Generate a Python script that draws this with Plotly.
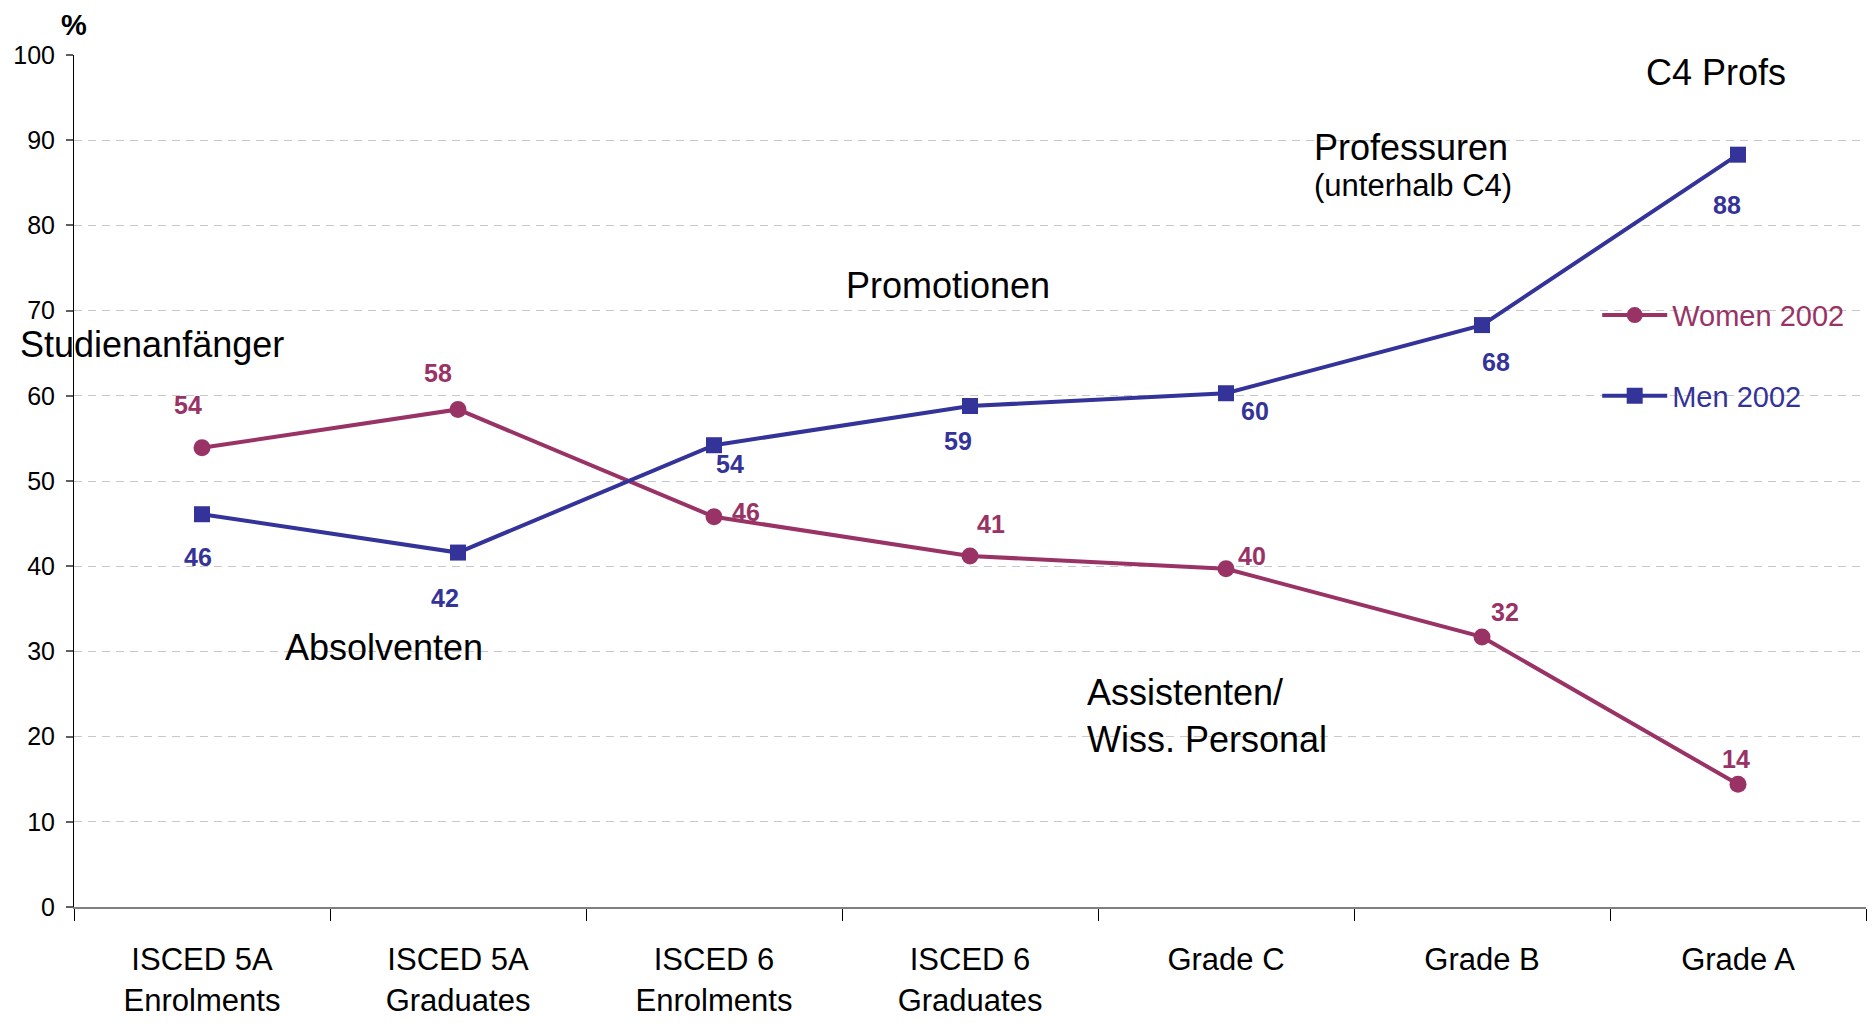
import plotly.graph_objects as go

# ---------------- data ----------------
categories = ["ISCED 5A<br>Enrolments", "ISCED 5A<br>Graduates", "ISCED 6<br>Enrolments",
              "ISCED 6<br>Graduates", "Grade C", "Grade B", "Grade A"]
women_2002 = [53.9, 58.4, 45.8, 41.2, 39.7, 31.7, 14.4]
men_2002 = [46.1, 41.6, 54.2, 58.8, 60.3, 68.3, 88.3]
y_tick_values = [0, 10, 20, 30, 40, 50, 60, 70, 80, 90, 100]

# stage annotations (text, x as fraction of plot width, y in %)
stage_labels = ["Studienanfänger", "Absolventen", "Promotionen", "Professuren",
                "(unterhalb C4)", "C4 Profs", "Assistenten/<br>Wiss. Personal"]
stage_x = [-0.0310, 0.1166, 0.4295, 0.6910, 0.6910, 0.8762, 0.5641]
stage_y = [66.0, 30.5, 72.9, 89.1, 84.7, 97.9, 22.4]

# ---------------- styles ----------------
WOMEN_COLOR = "#993366"
MEN_COLOR = "#333399"
SANS = "Liberation Sans, Arial, sans-serif"
women_label_shift = [(-14, -43), (-20, -36), (32, -5), (21, -32), (26, -13), (23, -25), (-2, -25)]
men_label_shift = [(-4, 43), (-13, 45), (16, 19), (-12, 35), (29, 18), (14, 37), (-11, 50)]
stage_sizes = [36, 36, 36, 36, 31, 36, 36]

fig = go.Figure()
fig.add_trace(go.Scatter(
    x=categories, y=women_2002, mode="lines+markers",
    name=f"<span style='color:{WOMEN_COLOR}'>Women 2002</span>",
    legendgroup="w",
    line=dict(color=WOMEN_COLOR, width=4),
    marker=dict(symbol="circle", size=17, color=WOMEN_COLOR),
))
fig.add_trace(go.Scatter(
    x=categories, y=men_2002, mode="lines+markers",
    name=f"<span style='color:{MEN_COLOR}'>Men 2002</span>",
    legendgroup="m",
    line=dict(color=MEN_COLOR, width=4),
    marker=dict(symbol="square", size=16, color=MEN_COLOR),
))

annotations = []
for i, v in enumerate(women_2002):
    dx, dy = women_label_shift[i]
    annotations.append(dict(x=i, y=v, xref="x", yref="y", text=f"{v:.0f}", showarrow=False,
                            xshift=dx, yshift=-dy,
                            font=dict(family=SANS, size=25, color=WOMEN_COLOR, weight="bold")))
for i, v in enumerate(men_2002):
    dx, dy = men_label_shift[i]
    annotations.append(dict(x=i, y=v, xref="x", yref="y", text=f"{v:.0f}", showarrow=False,
                            xshift=dx, yshift=-dy,
                            font=dict(family=SANS, size=25, color=MEN_COLOR, weight="bold")))
for t, x, y, s in zip(stage_labels, stage_x, stage_y, stage_sizes):
    annotations.append(dict(x=x, y=y, xref="paper", yref="y", text=t, showarrow=False,
                            xanchor="left", yanchor="middle", align="left",
                            font=dict(family=SANS, size=s, color="black")))
annotations.append(dict(x=0, y=1.035, xref="paper", yref="paper", text="%", showarrow=False,
                        xanchor="center", yanchor="middle",
                        font=dict(family=SANS, size=29, color="black", weight="bold")))

fig.update_layout(
    width=1872, height=1023,
    margin=dict(l=74, r=6, t=55, b=116),
    paper_bgcolor="white", plot_bgcolor="white",
    showlegend=True,
    legend=dict(x=0.850, y=0.7245, xanchor="left", yanchor="top",
                bgcolor="rgba(255,255,255,0)", borderwidth=0,
                font=dict(family=SANS, size=29),
                tracegroupgap=40, itemwidth=65),
    annotations=annotations,
    shapes=[dict(type="rect", xref="paper", yref="y", x0=0.837, x1=1.0, y0=35, y1=71,
                 fillcolor="white", line=dict(width=0), layer="between")],
)
fig.update_xaxes(
    type="category", range=[-0.5, 6.5], tickson="boundaries",
    ticks="outside", ticklen=12, tickcolor="black", tickwidth=1,
    showline=True, linecolor="#808080", linewidth=2,
    showgrid=False, zeroline=False, automargin=False,
    tickfont=dict(family=SANS, size=31, color="black"),
    ticklabelstandoff=24,
)
fig.update_yaxes(
    range=[0, 100], tickvals=y_tick_values,
    ticks="outside", ticklen=7, tickcolor="#606060", tickwidth=2,
    showline=True, linecolor="black", linewidth=1,
    showgrid=True, gridcolor="#c8c8c8", gridwidth=1, griddash="8px,6px",
    zeroline=False, automargin=False,
    tickfont=dict(family=SANS, size=25, color="black"),
    ticklabelstandoff=6,
)

fig.write_html("out.html", config={"displayModeBar": False},
               post_script="document.body.style.margin='0';document.body.style.overflow='hidden';")
